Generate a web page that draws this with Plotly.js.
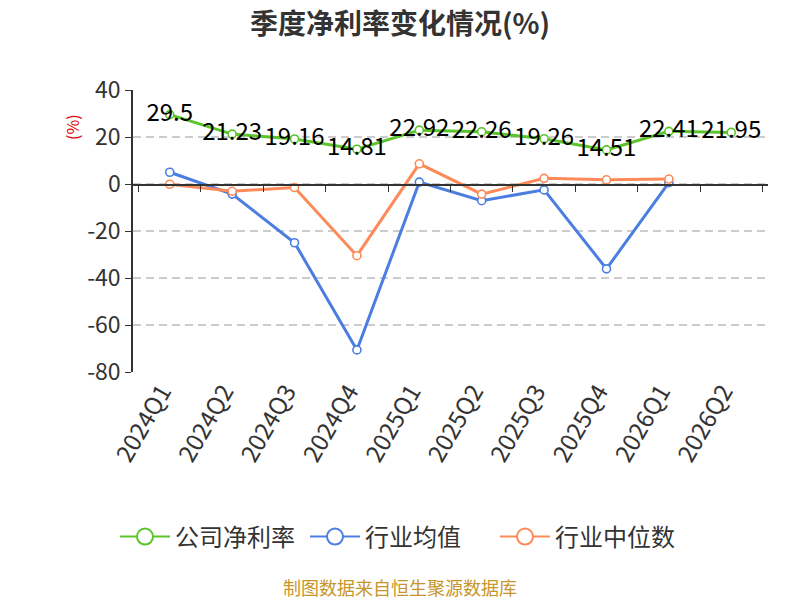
<!DOCTYPE html>
<html>
<head>
<meta charset="utf-8">
<script src="https://cdn.plot.ly/plotly-3.0.1.min.js"></script>
<style>
  html, body { margin: 0; padding: 0; background: #fff; }
  #chart { width: 800px; height: 600px; }
</style>
</head>
<body>
<div id="chart"></div>
<script>
// quarters on the x axis
const quarters = ["2024Q1", "2024Q2", "2024Q3", "2024Q4", "2025Q1", "2025Q2", "2025Q3", "2025Q4", "2026Q1", "2026Q2"];

// net margin (%)
const companyMargin = [29.5, 21.23, 19.16, 14.81, 22.92, 22.26, 19.26, 14.51, 22.41, 21.95];
const industryMean = [5.0, -4.3, -25.0, -70.6, 0.8, -7.1, -2.5, -36.1, 0.6, null];
const industryMedian = [-0.1, -3.1, -1.5, -30.5, 8.6, -4.3, 2.4, 1.8, 2.1, null];

// y ticks, written with a plain hyphen like the original
const yTickVals = [-80, -60, -40, -20, 0, 20, 40];
const yTickText = ["-80", "-60", "-40", "-20", "0", "20", "40"];

const seriesNames = ["公司净利率", "行业均值", "行业中位数"];
const seriesColors = ["#5bc42b", "#4b7ee0", "#fd8b5a"];

const font = "'Noto Sans CJK SC', 'Noto Sans', sans-serif";

function series(i, y) {
    return {
        x: quarters,
        y: y,
        name: seriesNames[i],
        type: "scatter",
        mode: "lines+markers",
        line: { color: seriesColors[i], width: 3 },
        marker: { size: 8, color: "#fff", line: { color: seriesColors[i], width: 1.6 } },
        showlegend: false,
        hoverinfo: "x+y"
    };
}

// legend-only entries, with a bigger hollow circle like the original
function legendEntry(i) {
    return {
        x: [null], y: [null],
        name: seriesNames[i],
        type: "scatter",
        mode: "lines+markers",
        line: { color: seriesColors[i], width: 2 },
        marker: { size: 16, color: "#fff", line: { color: seriesColors[i], width: 2 } },
        hoverinfo: "skip"
    };
}

let traces = [
    series(0, companyMargin),
    series(1, industryMean),
    series(2, industryMedian),
    // value labels of the company line, drawn last so they sit on top
    {
        x: quarters,
        y: companyMargin,
        text: companyMargin.map(v => String(v)),
        type: "scatter",
        mode: "text",
        textposition: "middle center",
        textfont: { family: font, size: 24, color: "#000" },
        showlegend: false,
        hoverinfo: "skip"
    },
    legendEntry(0),
    legendEntry(1),
    legendEntry(2),
    // empty trace so the second x axis (line and ticks on zero) exists
    {
        x: quarters, y: quarters.map(() => null),
        xaxis: "x2", yaxis: "y2",
        type: "scatter", mode: "lines",
        showlegend: false, hoverinfo: "skip"
    }
];

let layout = {
    width: 800,
    height: 600,
    margin: { l: 133, r: 32, t: 90, b: 228 },
    paper_bgcolor: "#fff",
    plot_bgcolor: "rgba(0,0,0,0)",
    font: { family: font, color: "#333" },
    title: {
        text: "<b>季度净利率变化情况(%)</b>",
        font: { family: font, size: 28, color: "#333" },
        x: 0.5, xanchor: "center",
        y: 1 - 24 / 600, yanchor: "middle"
    },
    xaxis: {
        type: "category",
        tickangle: -60,
        tickfont: { family: font, size: 24, color: "#333" },
        ticklabelshift: -8,
        showgrid: false,
        showline: false,
        ticks: "",
        zeroline: false
    },
    xaxis2: {
        type: "category",
        matches: "x",
        anchor: "y2",
        side: "bottom",
        showticklabels: false,
        showline: true,
        linecolor: "#333",
        linewidth: 1.5,
        ticks: "outside",
        tickson: "boundaries",
        ticklen: 6,
        tickcolor: "#333",
        showgrid: false,
        zeroline: false
    },
    yaxis: {
        range: [-80, 40],
        tickvals: yTickVals,
        ticktext: yTickText,
        tickfont: { family: font, size: 23, color: "#333" },
        showline: true,
        linecolor: "#333",
        linewidth: 1.5,
        ticks: "outside",
        ticklen: 6,
        tickcolor: "#333",
        gridcolor: "#cccccc",
        griddash: "8px,5px",
        gridwidth: 1.5,
        zeroline: false
    },
    yaxis2: {
        domain: [2 / 3, 1],
        visible: false,
        range: [0, 1]
    },
    legend: {
        orientation: "h",
        x: (400 - 133) / 635, xanchor: "center",
        y: -0.585, yanchor: "middle",
        font: { family: font, size: 24, color: "#333" },
        itemwidth: 50,
        entrywidth: 125,
        entrywidthmode: "pixels"
    },
    annotations: [
        {
            text: "(%)",
            xref: "paper", yref: "paper",
            x: (72 - 133) / 635, y: (372 - 127) / 282,
            xanchor: "center", yanchor: "middle",
            textangle: -90,
            showarrow: false,
            font: { family: font, size: 16, color: "#e00000" }
        },
        {
            text: "制图数据来自恒生聚源数据库",
            xref: "paper", yref: "paper",
            x: (400 - 133) / 635, y: (372 - 587) / 282,
            xanchor: "center", yanchor: "middle",
            showarrow: false,
            font: { family: font, size: 18, color: "#c8952a" }
        }
    ]
};

Plotly.newPlot("chart", traces, layout, { displayModeBar: false });
</script>
</body>
</html>
